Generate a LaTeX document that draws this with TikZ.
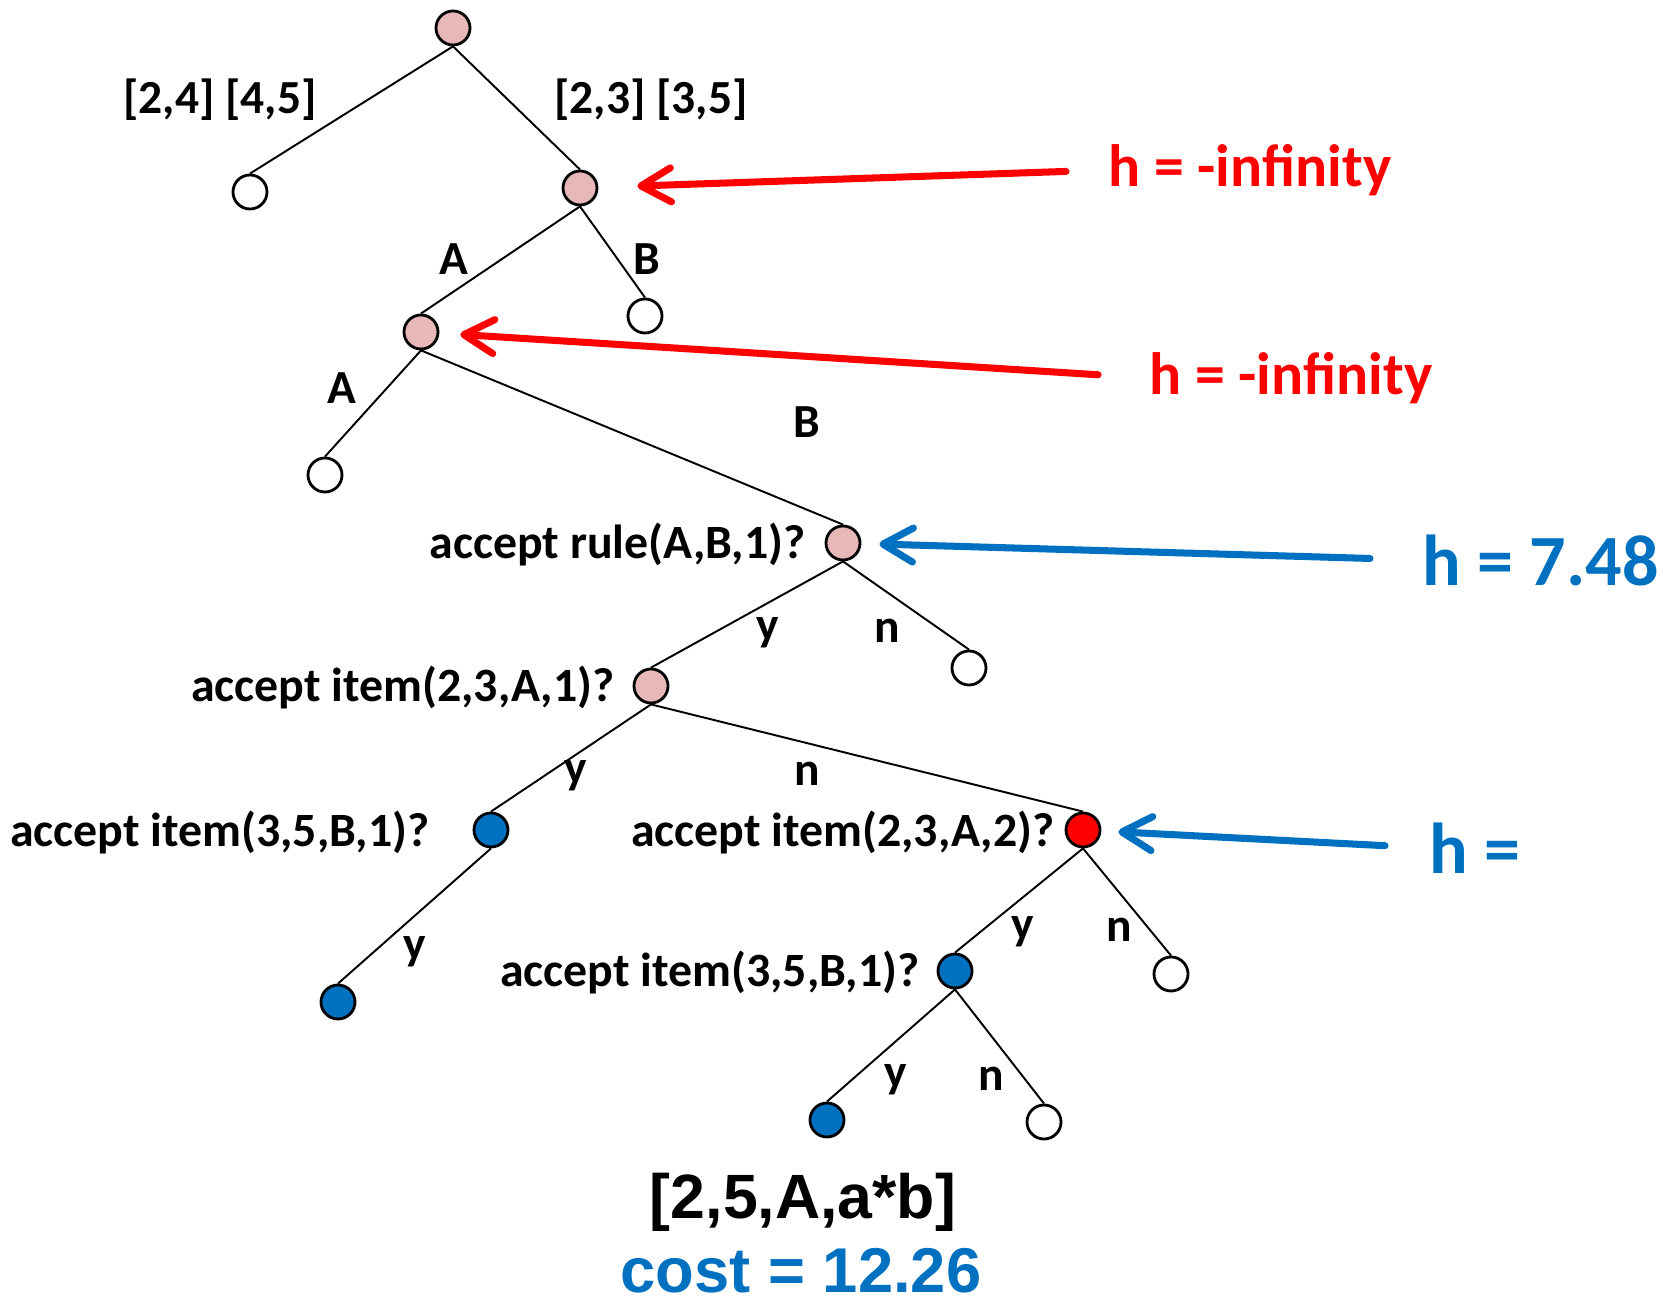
\documentclass[tikz,border=0pt]{standalone}
\usepackage{fontspec}
\setmainfont{Carlito}
\newfontfamily\arialfont{Liberation Sans}
\usetikzlibrary{arrows.meta,positioning}
\definecolor{nodepink}{HTML}{E6B9B8}
\definecolor{hblue}{HTML}{0070C0}

\begin{document}
\begin{tikzpicture}[
    x=0.01cm, y=-0.01cm,
    state/.style={circle, draw, line width=0.8pt, minimum size=0.34cm, inner sep=0pt, fill=white},
    done/.style={state, fill=nodepink},
    hit/.style={state, fill=hblue},
    cur/.style={state, fill=red},
    lbl/.style={font=\bfseries\fontsize{13.5}{16}\selectfont, inner sep=0pt},
    ask/.style={font=\bfseries\fontsize{13.6}{16}\selectfont, inner sep=0pt, anchor=east},
    hred/.style={font=\bfseries\fontsize{17}{20}\selectfont, text=red, anchor=west, inner sep=0pt},
    hblu/.style={font=\bfseries\fontsize{20.5}{24}\selectfont, text=hblue, anchor=west, inner sep=0pt},
    branch/.style={line width=0.55pt},
    pointer/.style={line width=2pt, line cap=round, -{Straight Barb[length=3mm, width=3.4mm, round]}}
]
    \useasboundingbox (0,0) rectangle (1663,1304);

    % search tree
    \node[done]  (root) at (453,28) {};
    \node[state] (l24)  at (250,192) {};
    \node[done]  (l23)  at (580,188) {};
    \node[done]  (ra)   at (421,332) {};
    \node[state] (rb)   at (645,316) {};
    \node[state] (raa)  at (325,475) {};
    \node[done]  (rule) at (843,543) {};
    \node[state] (rulen) at (969,668) {};
    \node[done]  (it1)  at (651,686) {};
    \node[hit]   (it1y) at (491,830) {};
    \node[cur]   (it2)  at (1083,830) {};
    \node[hit]   (it1yy) at (338,1002) {};
    \node[hit]   (it3)  at (955,971) {};
    \node[state] (it2n) at (1171,974) {};
    \node[hit]   (goal) at (827,1120) {};
    \node[state] (it3n) at (1044,1122) {};

    \draw[branch] (root.south) -- (l24.north);
    \draw[branch] (root.south) -- (l23.north);
    \draw[branch] (l23.south) -- (ra.north);
    \draw[branch] (l23.south) -- (rb.north);
    \draw[branch] (ra.south) -- (raa.north);
    \draw[branch] (ra.south) -- (rule.north);
    \draw[branch] (rule.south) -- (it1.north);
    \draw[branch] (rule.south) -- (rulen.north);
    \draw[branch] (it1.south) -- (it1y.north);
    \draw[branch] (it1.south) -- (it2.north);
    \draw[branch] (it1y.south) -- (it1yy.north);
    \draw[branch] (it2.south) -- (it3.north);
    \draw[branch] (it2.south) -- (it2n.north);
    \draw[branch] (it3.south) -- (goal.north);
    \draw[branch] (it3.south) -- (it3n.north);

    % branch labels
    \node[lbl] (spl) at (220,100) {[2,4] [4,5]};
    \node[lbl] (spr) at (651,100) {[2,3] [3,5]};
    \node[lbl] (la1) at (454,259) {A};
    \node[lbl] (lb1) at (647,259) {B};
    \node[lbl] (la2) at (342,388) {A};
    \node[lbl] (lb2) at (807,422) {B};
    \node[lbl] (ly1) at (768,633) {y};
    \node[lbl] (ln1) at (887,631) {n};
    \node[lbl] (ly2) at (576,776) {y};
    \node[lbl] (ln2) at (807,774) {n};
    \node[lbl] (ly3) at (415,952) {y};
    \node[lbl] (ly4) at (1023,932) {y};
    \node[lbl] (ln4) at (1119,930) {n};
    \node[lbl] (ly5) at (896,1080) {y};
    \node[lbl] (ln5) at (991,1079) {n};

    % questions asked at each node
    \node[ask] (qrule) at (806,545) {accept rule(A,B,1)?};
    \node[ask] (qit1)  at (615,688) {accept item(2,3,A,1)?};
    \node[ask] (qit1y) at (430,833) {accept item(3,5,B,1)?};
    \node[ask] (qit2)  at (1055,833) {accept item(2,3,A,2)?};
    \node[ask] (qit3)  at (920,973) {accept item(3,5,B,1)?};

    % heuristic values
    \node[hred] (h1) at (1108,170) {h = -infinity};
    \node[hred] (h2) at (1149,378) {h = -infinity};
    \node[hblu] (h3) at (1422,560) {h = 7.48};
    \node[hblu] (h4) at (1429,848) {h =};

    \draw[pointer, red, shorten <=0.42cm, shorten >=0.39cm] (h1.west) -- (l23);
    \draw[pointer, red, shorten <=0.51cm, shorten >=0.21cm] (h2.west) -- (ra);
    \draw[pointer, hblue, shorten <=0.52cm, shorten >=0.18cm] (h3.west) -- (rule);
    \draw[pointer, hblue, shorten <=0.44cm, shorten >=0.17cm] (h4.west) -- (it2);

    % result
    \node[font=\arialfont\bfseries\fontsize{17.8}{20}\selectfont, inner sep=0pt] (item) at (803,1202) {[2,5,A,a*b]};
    \node[font=\arialfont\bfseries\fontsize{18}{20}\selectfont, text=hblue, inner sep=0pt] (cost) at (801,1271) {cost = 12.26};
\end{tikzpicture}
\end{document}
